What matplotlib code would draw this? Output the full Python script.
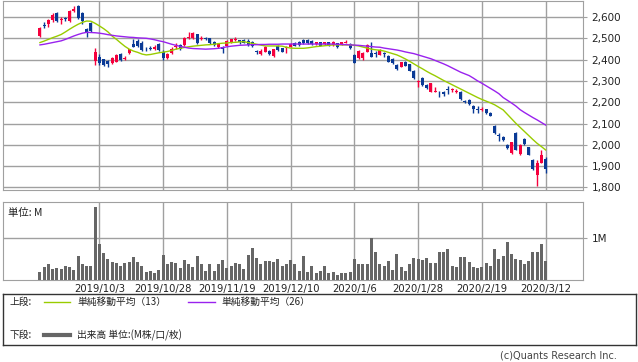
import numpy as np
import matplotlib
matplotlib.use("Agg")
from matplotlib import pyplot as plt

# 日足データ (2019/9 - 2020/3/12)
opens = [2511, 2562, 2565, 2586, 2620, 2584, 2596, 2580, 2630, 2652,
         2620, 2542, 2570, 2394, 2414, 2401, 2394, 2383, 2390, 2427,
         2403, 2430, 2472, 2487, 2480, 2452, 2455, 2449, 2472, 2437,
         2406, 2430, 2459, 2468, 2468, 2503, 2500, 2520, 2495, 2502,
         2500, 2482, 2458, 2461, 2465, 2484, 2493, 2490, 2492, 2487,
         2481, 2438, 2426, 2437, 2442, 2417, 2464, 2453, 2453, 2461,
         2479, 2481, 2492, 2492, 2487, 2473, 2481, 2473, 2481, 2469,
         2477, 2473, 2478, 2473, 2422, 2406, 2406, 2437, 2433, 2432,
         2422, 2430, 2419, 2403, 2375, 2367, 2390, 2378, 2347, 2295,
         2312, 2281, 2250, 2250, 2249, 2250, 2262, 2256, 2248, 2250,
         2206, 2211, 2183, 2166, 2165, 2167, 2151, 2089, 2044, 2039,
         1999, 1961, 2055, 1957, 2028, 1989, 1929, 1859, 1917, 1933]
highs = [2555, 2575, 2590, 2620, 2625, 2601, 2600, 2632, 2653, 2655,
         2622, 2548, 2575, 2453, 2425, 2405, 2398, 2410, 2425, 2432,
         2416, 2452, 2495, 2495, 2485, 2460, 2462, 2470, 2477, 2445,
         2430, 2460, 2480, 2472, 2506, 2528, 2530, 2522, 2510, 2508,
         2502, 2485, 2478, 2464, 2490, 2498, 2505, 2494, 2495, 2495,
         2485, 2445, 2448, 2465, 2446, 2450, 2468, 2456, 2463, 2476,
         2483, 2485, 2495, 2495, 2490, 2484, 2484, 2484, 2484, 2487,
         2480, 2484, 2492, 2477, 2425, 2445, 2436, 2472, 2484, 2440,
         2448, 2434, 2422, 2406, 2378, 2390, 2393, 2381, 2350, 2305,
         2320, 2284, 2292, 2270, 2252, 2253, 2275, 2266, 2262, 2253,
         2212, 2214, 2186, 2180, 2176, 2170, 2154, 2092, 2055, 2042,
         2002, 2014, 2058, 2002, 2031, 1992, 1932, 1929, 1976, 1945]
lows = [2505, 2547, 2552, 2578, 2575, 2565, 2580, 2578, 2624, 2590,
        2565, 2505, 2530, 2375, 2375, 2368, 2365, 2378, 2388, 2392,
        2396, 2428, 2458, 2458, 2440, 2440, 2446, 2446, 2440, 2400,
        2403, 2425, 2450, 2445, 2466, 2495, 2497, 2474, 2493, 2490,
        2474, 2465, 2455, 2430, 2462, 2480, 2488, 2475, 2476, 2466,
        2460, 2428, 2420, 2435, 2422, 2414, 2442, 2434, 2430, 2458,
        2462, 2466, 2475, 2474, 2470, 2470, 2462, 2470, 2462, 2466,
        2455, 2470, 2476, 2450, 2383, 2403, 2398, 2435, 2410, 2414,
        2420, 2414, 2388, 2380, 2352, 2364, 2369, 2345, 2310, 2270,
        2278, 2263, 2248, 2248, 2225, 2228, 2240, 2250, 2244, 2212,
        2195, 2188, 2148, 2150, 2160, 2145, 2133, 2052, 2020, 2020,
        1981, 1955, 1974, 1950, 2001, 1950, 1883, 1809, 1914, 1870]
closes = [2550, 2558, 2585, 2611, 2583, 2590, 2592, 2627, 2637, 2595,
          2580, 2523, 2536, 2434, 2383, 2375, 2377, 2406, 2422, 2398,
          2408, 2450, 2461, 2465, 2445, 2448, 2451, 2461, 2445, 2406,
          2425, 2448, 2462, 2448, 2503, 2506, 2523, 2477, 2503, 2498,
          2477, 2468, 2472, 2452, 2487, 2495, 2497, 2482, 2480, 2469,
          2464, 2434, 2442, 2461, 2426, 2448, 2445, 2437, 2461, 2473,
          2465, 2469, 2477, 2477, 2472, 2481, 2465, 2481, 2465, 2484,
          2458, 2481, 2482, 2453, 2386, 2440, 2433, 2469, 2414, 2428,
          2445, 2426, 2390, 2383, 2356, 2387, 2372, 2348, 2312, 2298,
          2281, 2266, 2289, 2254, 2246, 2237, 2259, 2260, 2252, 2215,
          2203, 2191, 2167, 2162, 2169, 2148, 2136, 2055, 2040, 2023,
          1984, 2011, 1976, 1999, 2004, 1953, 1886, 1914, 1953, 1886]
# 出来高 (M)
volume = [0.20, 0.30, 0.38, 0.25, 0.28, 0.27, 0.33, 0.31, 0.24, 0.57,
          0.38, 0.33, 0.33, 1.73, 0.86, 0.65, 0.50, 0.44, 0.40, 0.33,
          0.41, 0.44, 0.54, 0.44, 0.33, 0.20, 0.21, 0.17, 0.24, 0.60,
          0.37, 0.44, 0.41, 0.28, 0.48, 0.38, 0.32, 0.57, 0.38, 0.22,
          0.37, 0.22, 0.37, 0.48, 0.29, 0.34, 0.40, 0.37, 0.25, 0.60,
          0.75, 0.52, 0.37, 0.45, 0.45, 0.44, 0.50, 0.34, 0.37, 0.48,
          0.37, 0.21, 0.57, 0.19, 0.33, 0.16, 0.22, 0.33, 0.16, 0.19,
          0.13, 0.16, 0.16, 0.19, 0.50, 0.37, 0.38, 0.38, 0.99, 0.67,
          0.37, 0.33, 0.45, 0.24, 0.62, 0.30, 0.21, 0.37, 0.52, 0.50,
          0.48, 0.52, 0.41, 0.41, 0.67, 0.67, 0.74, 0.33, 0.30, 0.54,
          0.54, 0.44, 0.30, 0.29, 0.30, 0.41, 0.33, 0.74, 0.50, 0.57,
          0.90, 0.62, 0.50, 0.48, 0.37, 0.45, 0.67, 0.67, 0.86, 0.45]
# 単純移動平均 (チャートから読み取り)
ma13 = [2480, 2487, 2495, 2503, 2510, 2518, 2530, 2543, 2555, 2566,
        2575, 2581, 2580, 2570, 2558, 2545, 2530, 2510, 2495, 2478,
        2462, 2449, 2440, 2434, 2426, 2422, 2424, 2428, 2432, 2435,
        2438, 2443, 2449, 2453, 2457, 2460, 2463, 2465, 2467, 2469,
        2470, 2472, 2475, 2477, 2478, 2480, 2481, 2483, 2484, 2480,
        2476, 2472, 2468, 2464, 2464, 2464, 2464, 2463, 2458, 2454,
        2453, 2453, 2453, 2455, 2458, 2461, 2463, 2465, 2467, 2469,
        2469, 2469, 2469, 2469, 2467, 2464, 2459, 2454, 2449, 2446,
        2444, 2440, 2434, 2428, 2422, 2413, 2403, 2392, 2380, 2368,
        2357, 2345, 2334, 2324, 2313, 2302, 2292, 2282, 2272, 2262,
        2252, 2242, 2232, 2222, 2213, 2205, 2197, 2188, 2176, 2164,
        2143, 2122, 2101, 2082, 2063, 2044, 2025, 2007, 1992, 1976]
ma26 = [2469, 2472, 2476, 2480, 2484, 2488, 2495, 2503, 2511, 2518,
        2524, 2528, 2527, 2526, 2524, 2521, 2517, 2514, 2511, 2509,
        2507, 2505, 2504, 2502, 2501, 2500, 2497, 2493, 2488, 2484,
        2478, 2472, 2467, 2462, 2458, 2454, 2452, 2451, 2450, 2449,
        2450, 2451, 2453, 2456, 2460, 2463, 2465, 2467, 2468, 2469,
        2470, 2470, 2471, 2471, 2472, 2472, 2472, 2473, 2473, 2473,
        2473, 2473, 2473, 2473, 2473, 2473, 2473, 2473, 2473, 2473,
        2472, 2471, 2470, 2469, 2468, 2467, 2465, 2463, 2461, 2459,
        2458, 2454, 2451, 2448, 2445, 2441, 2436, 2432, 2428, 2422,
        2416, 2410, 2404, 2396, 2388, 2380, 2371, 2361, 2351, 2341,
        2333, 2325, 2313, 2300, 2289, 2277, 2265, 2253, 2240, 2222,
        2209, 2196, 2182, 2165, 2152, 2140, 2128, 2117, 2105, 2093]
tick_idx = [14, 29, 44, 59, 74, 89, 104, 119]
tick_labels = ["2019/10/3", "2019/10/28", "2019/11/19", "2019/12/10",
               "2020/1/6", "2020/1/28", "2020/2/19", "2020/3/12"]

UP = "#f5003d"
DOWN = "#0a3a96"
GRID = "#a0a0a0"
jp = ["Noto Sans CJK JP", "DejaVu Sans"]

o = np.array(opens); h = np.array(highs); l = np.array(lows); c = np.array(closes)
x = np.arange(len(c))
cols = np.where(c >= o, UP, DOWN)

W, H = 638, 362
fig = plt.figure(figsize=(W / 100, H / 100), dpi=100, facecolor="white")

def box(x0, y0, x1, y1):
    return [x0 / W, 1 - y1 / H, (x1 - x0) / W, (y1 - y0) / H]

xlim = (-8.7, 127.8)

# 上段: ローソク足
ax = fig.add_axes(box(3, 1, 583, 190))
ax.vlines(x, l, h, colors=cols, linewidth=1, zorder=3)
body_lo = np.minimum(o, c)
body_h = np.maximum(np.abs(c - o), 3)
ax.bar(x, body_h, bottom=body_lo, width=0.72, color=cols, linewidth=0, zorder=4)
ax.plot(x, ma13, color="#99cc00", linewidth=1, zorder=5)
ax.plot(x, ma26, color="#9922ee", linewidth=1, zorder=5)
ax.set_xlim(*xlim)
ax.set_ylim(1788, 2675)
ax.set_yticks(range(1800, 2601, 100))
ax.set_yticklabels([f"{v:,}" for v in range(1800, 2601, 100)])
ax.set_xticks(tick_idx)
ax.tick_params(axis="x", length=0, labelbottom=False)
ax.yaxis.tick_right()
ax.tick_params(axis="y", length=3, width=0.8, color=GRID, pad=3, labelsize=7.5, labelcolor="#222222")
ax.grid(True, color=GRID, linewidth=1)
ax.set_axisbelow(True)
for s in ax.spines.values():
    s.set_color(GRID)

# 下段: 出来高
axv = fig.add_axes(box(3, 202, 583, 280))
axv.bar(x, volume, width=0.72, color="#666666", linewidth=0, zorder=3)
axv.set_xlim(*xlim)
axv.set_ylim(0, 1.857)
axv.set_yticks([1])
axv.set_yticklabels(["1M"])
axv.yaxis.tick_right()
axv.tick_params(axis="y", length=3, width=0.8, color=GRID, pad=3, labelsize=7.5, labelcolor="#222222")
axv.set_xticks(tick_idx)
axv.set_xticklabels(tick_labels)
axv.tick_params(axis="x", length=0, pad=3, labelsize=7.2, labelcolor="#222222")
axv.grid(True, color=GRID, linewidth=1)
axv.set_axisbelow(True)
for s in axv.spines.values():
    s.set_color(GRID)
axv.text(0.008, 0.93, "単位: M", transform=axv.transAxes, ha="left", va="top",
         fontsize=7.5, family=jp, color="#222222")

# 凡例
axl = fig.add_axes(box(3, 294, 636, 345))
axl.set_xlim(3, 636)
axl.set_ylim(345, 294)
axl.set_xticks([])
axl.set_yticks([])
for s in axl.spines.values():
    s.set_color("#333333")
    s.set_linewidth(1)
axl.text(10, 302, "上段:", fontsize=7, family=jp, va="center", color="#222222")
axl.plot([44, 70], [302, 302], color="#99cc00", linewidth=1)
axl.text(77, 302, "単純移動平均（13）", fontsize=7, family=jp, va="center", color="#222222")
axl.plot([188, 215], [302, 302], color="#9922ee", linewidth=1)
axl.text(221, 302, "単純移動平均（26）", fontsize=7, family=jp, va="center", color="#222222")
axl.text(10, 335, "下段:", fontsize=7, family=jp, va="center", color="#222222")
axl.plot([44, 70], [335, 335], color="#666666", linewidth=3)
axl.text(77, 335, "出来高 単位:(M株/口/枚)", fontsize=7, family=jp, va="center", color="#222222")

fig.text(617 / W, 1 - 355 / H, "(c)Quants Research Inc.", ha="right", va="center",
         fontsize=7, color="#444444")

fig.savefig("out.png", dpi=100, facecolor="white")
